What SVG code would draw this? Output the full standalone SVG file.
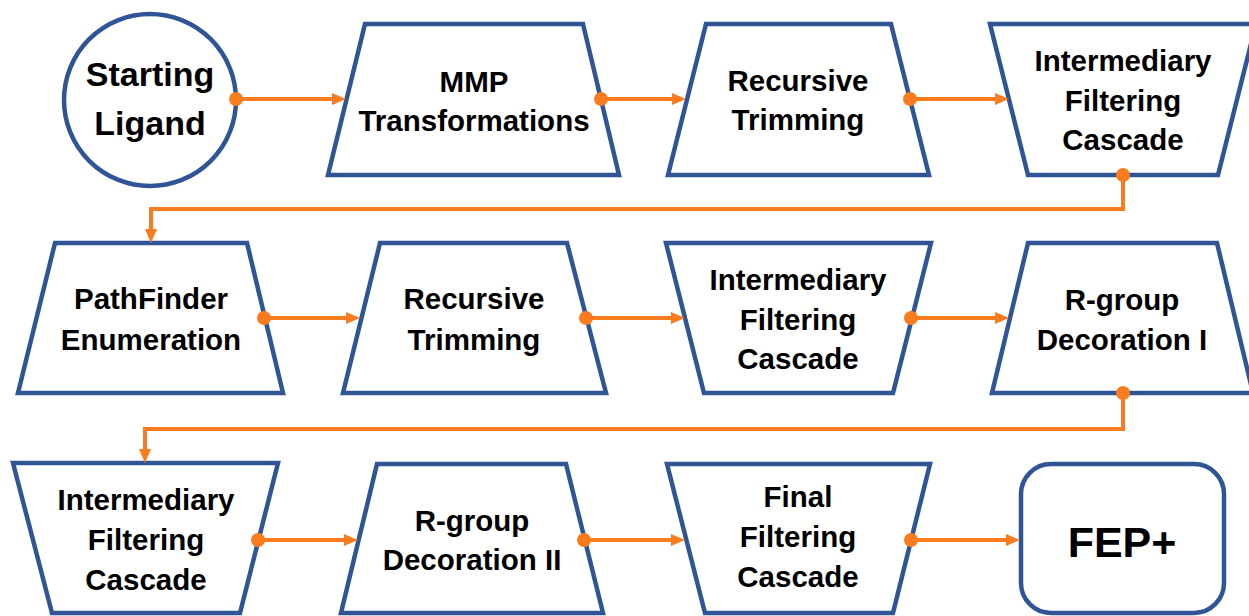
<svg xmlns="http://www.w3.org/2000/svg" width="1249" height="616" viewBox="0 0 1249 616">
<style>
.shape{fill:#fff;stroke:#2F5597;stroke-width:4.5;stroke-linejoin:miter}
.lbl{font-family:"Liberation Sans",Arial,sans-serif;font-weight:bold;font-size:29.5px;fill:#000;text-anchor:middle}
.big{font-size:34px}
.huge{font-size:43px}
.conn{fill:none;stroke:#FA7C1E;stroke-width:4}
.dot{fill:#FA7C1E}
</style>
<defs>
<marker id="arr" markerUnits="userSpaceOnUse" markerWidth="14" markerHeight="12" refX="4" refY="6" orient="auto">
<path d="M0,0 L14,6 L0,12 z" fill="#FA7C1E"/>
</marker>
</defs>
<rect width="1249" height="616" fill="#fff"/>
<g id="n-start">
<circle class="shape" cx="150" cy="100" r="86"/>
<text class="lbl big" x="150" y="86">Starting</text>
<text class="lbl big" x="150" y="135">Ligand</text>
</g>
<g id="n-mmp">
<polygon class="shape" points="365,24 583,24 619,175 328,175"/>
<text class="lbl" x="474" y="92">MMP</text>
<text class="lbl" x="474" y="131">Transformations</text>
</g>
<g id="n-trim1">
<polygon class="shape" points="706,24 891,24 929,175 668,175"/>
<text class="lbl" x="798" y="91">Recursive</text>
<text class="lbl" x="798" y="130">Trimming</text>
</g>
<g id="n-ifc1">
<polygon class="shape" points="990,24 1256,24 1218,175 1028,175"/>
<text class="lbl" x="1123" y="71">Intermediary</text>
<text class="lbl" x="1123" y="111">Filtering</text>
<text class="lbl" x="1123" y="150">Cascade</text>
</g>
<g id="n-pathfinder">
<polygon class="shape" points="55,243 247,243 283,393 18,393"/>
<text class="lbl" x="151" y="309">PathFinder</text>
<text class="lbl" x="151" y="350">Enumeration</text>
</g>
<g id="n-trim2">
<polygon class="shape" points="380,243 567,243 606,393 343,393"/>
<text class="lbl" x="474" y="309">Recursive</text>
<text class="lbl" x="474" y="350">Trimming</text>
</g>
<g id="n-ifc2">
<polygon class="shape" points="666,243 931,243 893,393 704,393"/>
<text class="lbl" x="798" y="290">Intermediary</text>
<text class="lbl" x="798" y="330">Filtering</text>
<text class="lbl" x="798" y="369">Cascade</text>
</g>
<g id="n-rgroup1">
<polygon class="shape" points="1028,243 1217,243 1253,393 992,393"/>
<text class="lbl" x="1122" y="310">R-group</text>
<text class="lbl" x="1122" y="350">Decoration I</text>
</g>
<g id="n-ifc3">
<polygon class="shape" points="13,463 278,463 240,613 52,613"/>
<text class="lbl" x="146" y="510">Intermediary</text>
<text class="lbl" x="146" y="550">Filtering</text>
<text class="lbl" x="146" y="590">Cascade</text>
</g>
<g id="n-rgroup2">
<polygon class="shape" points="377,464 566,464 603,613 341,613"/>
<text class="lbl" x="472" y="531">R-group</text>
<text class="lbl" x="472" y="570">Decoration II</text>
</g>
<g id="n-final">
<polygon class="shape" points="667,464 930,464 893,613 705,613"/>
<text class="lbl" x="798" y="507">Final</text>
<text class="lbl" x="798" y="547">Filtering</text>
<text class="lbl" x="798" y="587">Cascade</text>
</g>
<g id="n-fep">
<rect class="shape" x="1021" y="464" width="203" height="149" rx="30" ry="30"/>
<text class="lbl huge" x="1122" y="557">FEP+</text>
</g>
<g id="connectors">
<path class="conn" d="M236,99 H336" marker-end="url(#arr)"/>
<path class="conn" d="M601,99 H676" marker-end="url(#arr)"/>
<path class="conn" d="M910,99 H999" marker-end="url(#arr)"/>
<path class="conn" d="M1123,175 V209 H151 V233" marker-end="url(#arr)"/>
<path class="conn" d="M264,318 H350" marker-end="url(#arr)"/>
<path class="conn" d="M586,318 H675" marker-end="url(#arr)"/>
<path class="conn" d="M911,318 H999" marker-end="url(#arr)"/>
<path class="conn" d="M1123,393 V429 H145 V453" marker-end="url(#arr)"/>
<path class="conn" d="M258,540 H348" marker-end="url(#arr)"/>
<path class="conn" d="M584,540 H675" marker-end="url(#arr)"/>
<path class="conn" d="M911,540 H1010" marker-end="url(#arr)"/>
<circle class="dot" cx="236" cy="99" r="7"/>
<circle class="dot" cx="601" cy="99" r="7"/>
<circle class="dot" cx="910" cy="99" r="7"/>
<circle class="dot" cx="1123" cy="175" r="7"/>
<circle class="dot" cx="264" cy="318" r="7"/>
<circle class="dot" cx="586" cy="318" r="7"/>
<circle class="dot" cx="911" cy="318" r="7"/>
<circle class="dot" cx="1123" cy="393" r="7"/>
<circle class="dot" cx="258" cy="540" r="7"/>
<circle class="dot" cx="584" cy="540" r="7"/>
<circle class="dot" cx="911" cy="540" r="7"/>
</g>
</svg>
